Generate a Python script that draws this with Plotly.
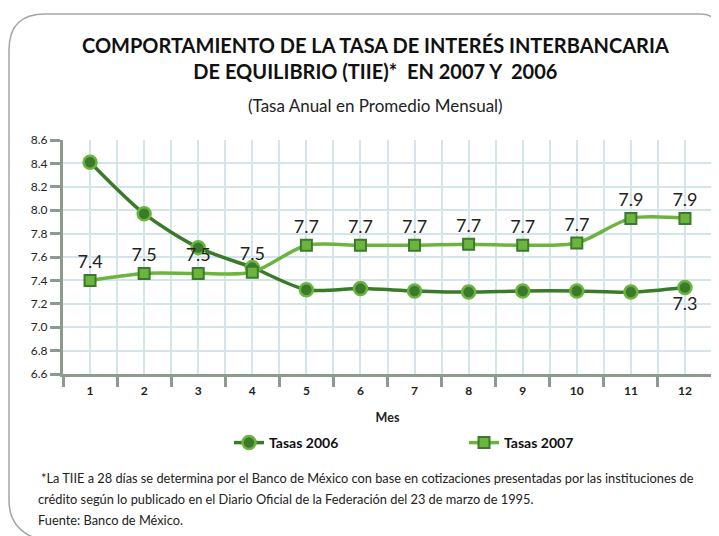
import plotly.graph_objects as go

# datos
meses = [1, 2, 3, 4, 5, 6, 7, 8, 9, 10, 11, 12]
etiquetas_mes = ["<b>%d</b>" % m for m in meses]
tasas_2006 = [8.41, 7.97, 7.68, 7.51, 7.32, 7.33, 7.31, 7.30, 7.31, 7.31, 7.30, 7.34]
tasas_2007 = [7.40, 7.46, 7.46, 7.47, 7.70, 7.70, 7.70, 7.71, 7.70, 7.72, 7.93, 7.93]
y_ticks = [6.6, 6.8, 7.0, 7.2, 7.4, 7.6, 7.8, 8.0, 8.2, 8.4, 8.6]

# etiquetas: 2007 todas, 2006 solo diciembre
txt_2007 = ["%.1f" % v for v in tasas_2007]
txt_2006 = ["" for v in tasas_2006]
txt_2006[-1] = "%.1f" % tasas_2006[-1]

FONT = "Lato, Roboto, sans-serif"
OSCURO = "#3a7a2b"
CLARO = "#6db43f"
OFF = 8  # margen del body de la pagina
W, H = 719 - OFF, 536 - OFF
# area de trazado en pixeles de la referencia
X0, X1, Y0, Y1 = 63, 712, 140, 374
L, R, T, B = X0 - OFF, 719 - X1, Y0 - OFF, 536 - Y1
PW = X1 - X0
PH = Y1 - Y0


def px(x):
    return (x - X0) / PW


def py(y):
    return (Y1 - y) / PH


fig = go.Figure()
fig.add_trace(go.Scatter(
    x=meses, y=tasas_2006, name="<b>Tasas 2006</b>", mode="lines+markers+text",
    line=dict(color=OSCURO, width=3.5, shape="spline", smoothing=0.8),
    marker=dict(symbol="circle", size=13, color=OSCURO, line=dict(color=CLARO, width=2.5)),
    text=txt_2006, textposition="bottom center",
    textfont=dict(size=18, color="#222"),
))
fig.add_trace(go.Scatter(
    x=meses, y=tasas_2007, name="<b>Tasas 2007</b>", mode="lines+markers+text",
    line=dict(color=CLARO, width=3.5, shape="spline", smoothing=0.8),
    marker=dict(symbol="square", size=11, color=CLARO, line=dict(color=OSCURO, width=2)),
    text=txt_2007, textposition="top center",
    textfont=dict(size=18, color="#222"),
))

fig.update_layout(
    width=W, height=H,
    margin=dict(l=L, r=R, t=T, b=B),
    paper_bgcolor="white", plot_bgcolor="white",
    font=dict(family=FONT, color="#222", size=12),
    showlegend=True,
    legend=dict(orientation="h", x=px(229), xanchor="left", y=py(443), yanchor="middle",
                entrywidth=190, font=dict(size=14, color="#111")),
    xaxis=dict(range=[0.5, 12.5], tickvals=meses, ticktext=etiquetas_mes, ticks="",
               showgrid=True, gridcolor="#d3e5e8", gridwidth=2,
               showline=True, linecolor="#8c9a8f", linewidth=3,
               tickfont=dict(size=12, color="#222"), ticklabelstandoff=4,
               title=dict(text="<b>Mes</b>", font=dict(size=12.5), standoff=16),
               minor=dict(tick0=0.5, dtick=1, ticks="outside", ticklen=10,
                          tickwidth=3, tickcolor="#8c9a8f",
                          showgrid=True, gridcolor="#d3e5e8", gridwidth=2),
               zeroline=False),
    yaxis=dict(range=[6.6, 8.6], tickvals=y_ticks, tickformat=".1f",
               ticks="outside", ticklen=10, tickwidth=3, tickcolor="#8c9a8f",
               showgrid=True, gridcolor="#d3e5e8", gridwidth=2,
               showline=True, linecolor="#8c9a8f", linewidth=3,
               tickfont=dict(size=12, color="#222"), zeroline=False),
)

# textos
fig.add_annotation(x=px(375), y=py(58.5), xref="paper", yref="paper", showarrow=False,
                   yanchor="middle",
                   text="<b>COMPORTAMIENTO DE LA TASA DE INTERÉS INTERBANCARIA<br>DE EQUILIBRIO (TIIE)*  EN 2007 Y  2006</b>",
                   font=dict(size=20, color="#111"), align="center")
fig.add_annotation(x=px(375), y=py(105), xref="paper", yref="paper", showarrow=False,
                   yanchor="middle",
                   text="(Tasa Anual en Promedio Mensual)", font=dict(size=17, color="#222"))
notas = [
    (39, 478, "*La TIIE a 28 días se determina por el Banco de México con base en cotizaciones presentadas por las instituciones de"),
    (36, 499, "crédito según lo publicado en el Diario Oficial de la Federación del 23 de marzo de 1995."),
    (36, 520, "Fuente: Banco de México."),
]
for x0, y0, t in notas:
    fig.add_annotation(x=px(x0), y=py(y0), xref="paper", yref="paper", showarrow=False,
                       xanchor="left", yanchor="middle", text=t, font=dict(size=12.8, color="#222"))

# marco redondeado
pts = "M {} {} Q {} {} {} {} L {} {} Q {} {} {} {} L {} {} Q {} {} {} {}".format(
    px(42), py(540), px(9), py(532), px(9), py(500),
    px(9), py(50), px(9), py(14), px(45), py(14),
    px(700), py(14), px(716), py(14), px(720), py(28))
fig.add_shape(type="path", path=pts, xref="paper", yref="paper",
              line=dict(color="#a0a8a0", width=1.5), layer="below")

fig.write_html("out.html")
